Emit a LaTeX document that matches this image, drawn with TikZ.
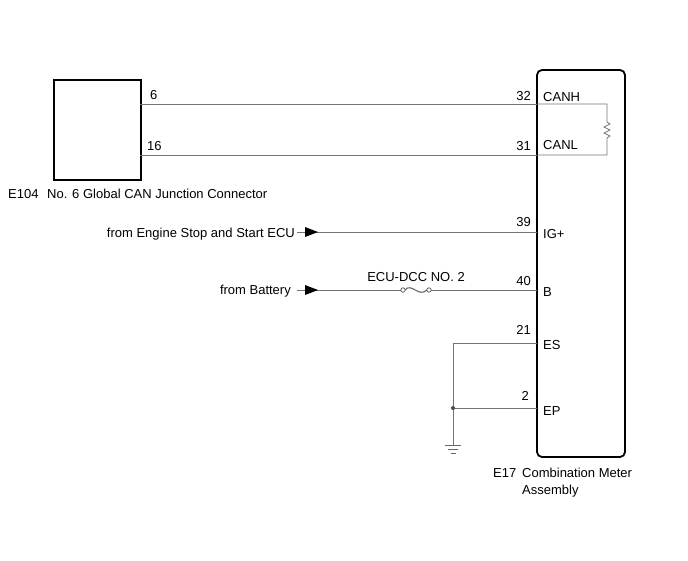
\documentclass[tikz,border=0pt]{standalone}
\usepackage{fontspec}
\setmainfont{Liberation Sans}
\usetikzlibrary{calc}
\begin{document}
\begin{tikzpicture}[x=1pt,y=-1pt,
  wire/.style={draw=black!55,line width=1pt},
  part/.style={draw=black,line width=1.8pt},
  lbl/.style={inner sep=0pt,font=\fontsize{13}{15}\selectfont},
  tri/.style={fill=black,draw=none}]
\useasboundingbox (0,0) rectangle (688,560);
% left connector box
\node[part,minimum width=87pt,minimum height=100pt,inner sep=0pt,anchor=north west] (jc) at (53,79) {};
\node[lbl,anchor=base west] (jcl0) at (8,198) {E104};
\node[lbl,anchor=base west] (jcl) at (47,198) {No. 6 Global CAN Junction Connector};
% right meter box
\draw[part,rounded corners=5pt] (537,70) rectangle (625,457);
\node[lbl,anchor=base west] (mcl0) at (493,477) {E17};
\node[lbl,anchor=base west] (mcl1) at (522,477) {Combination Meter};
\node[lbl,anchor=base west] (mcl2) at (522,494) {Assembly};
% pins
\coordinate (p6) at (140,104);
\coordinate (p16) at (140,155);
\coordinate (p32) at (537,104);
\coordinate (p31) at (537,155);
\node[lbl,anchor=base west] at (150,99) {6};
\node[lbl,anchor=base west] at (147,150) {16};
\node[lbl,anchor=base east] at (531,100) {32};
\node[lbl,anchor=base west] at (543,101) {CANH};
\node[lbl,anchor=base east] at (531,150) {31};
\node[lbl,anchor=base west] at (543,149) {CANL};
\draw[wire] (p6) -- (p32);
\draw[wire] (p16) -- (p31);
% termination resistor
\coordinate (rt) at (607,104);
\coordinate (rb) at (607,155);
\draw[wire,line width=0.8pt] (p32) -- (rt) -- (607,122) -- (610,124) -- (604,127) -- (610,130) -- (604,133) -- (610,136) -- (607,138) -- (rb) -- (p31);
% IG+
\coordinate (igs) at (297,232);
\coordinate (ige) at (537,232);
\node[lbl,anchor=base east] (igfrom) at (295,237) {from Engine Stop and Start ECU};
\draw[wire] (igs) -- (ige);
\fill[tri] (305,227) -- (318,232) -- (305,237) -- cycle;
\node[lbl,anchor=base east] at (531,226) {39};
\node[lbl,anchor=base west] at (543,238) {IG+};
% B
\coordinate (bs) at (297,290);
\coordinate (be) at (537,290);
\coordinate (f1) at (403,290);
\coordinate (f2) at (429,290);
\node[lbl,anchor=base east] (bfrom) at (291,294) {from Battery};
\draw[wire] (bs) -- ($(f1)+(-2,0)$);
\draw[wire] ($(f2)+(2,0)$) -- (be);
\fill[tri] (305,285) -- (318,290) -- (305,295) -- cycle;
\draw[black!60,line width=0.8pt] (f1) circle (2.2);
\draw[black!60,line width=0.8pt] (f2) circle (2.2);
\draw[black!60,line width=1.1pt] ($(f1)+(2.2,0)$) .. controls (411,282) and (419,298) .. ($(f2)+(-2.2,0)$);
\node[lbl,anchor=base] (fl) at (416,281) {ECU-DCC NO. 2};
\node[lbl,anchor=base east] at (531,285) {40};
\node[lbl,anchor=base west] at (543,296) {B};
% ES / EP
\coordinate (es) at (537,343);
\coordinate (ep) at (537,408);
\coordinate (gc) at (453,343);
\coordinate (gd) at (453,408);
\coordinate (gg) at (453,445);
\draw[wire] (es) -- (gc) -- (gg);
\draw[wire] (gd) -- (ep);
\fill[black!70] (gd) circle (2);
\draw[black!60,line width=1pt] (445,445) -- (461,445) (448,449) -- (458,449) (450.5,453) -- (455.5,453);
\node[lbl,anchor=base east] at (531,334) {21};
\node[lbl,anchor=base west] at (543,349) {ES};
\node[lbl,anchor=base east] at (529,400) {2};
\node[lbl,anchor=base west] at (543,415) {EP};
\end{tikzpicture}
\end{document}
